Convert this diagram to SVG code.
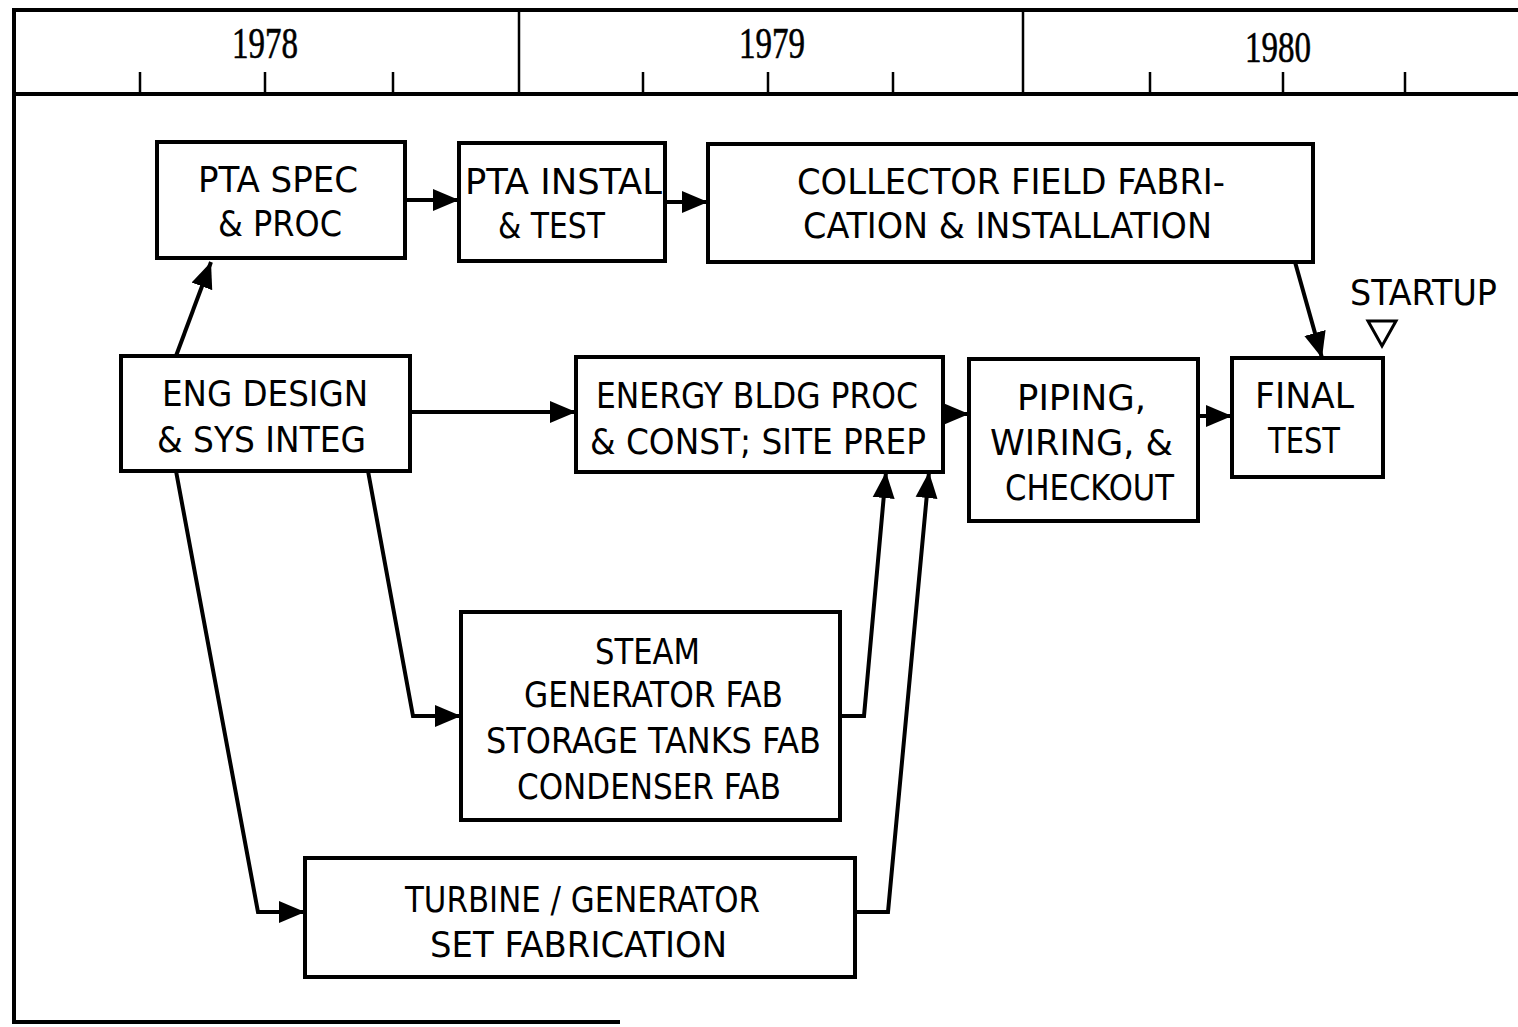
<svg xmlns="http://www.w3.org/2000/svg" width="1518" height="1027" viewBox="0 0 1518 1027">
<style>
.box{fill:#fff;stroke:#000;stroke-width:4}
.t{font-family:"DejaVu Sans Condensed","DejaVu Sans",sans-serif;font-size:35px;fill:#000}
.yr{font-family:"Liberation Serif",serif;font-size:44px;fill:#000;stroke:#000;stroke-width:0.6}
.c{fill:none;stroke:#000;stroke-width:4;stroke-linejoin:miter}
.frame{stroke:#000;fill:none}
</style>
<defs>
<marker id="ah" markerUnits="userSpaceOnUse" markerWidth="28" markerHeight="24" refX="26" refY="12" orient="auto">
<path d="M0,1 L26,12 L0,23 Z" fill="#000"/>
</marker>
</defs>
<rect width="1518" height="1027" fill="#fff"/>
<g id="timeline">
<path class="frame" stroke-width="4" d="M12,10 H1518 M14,10 V1022 M12,94 H1518 M12,1022 H620"/>
<path class="frame" stroke-width="2.5" d="M519,10 V94 M1023,10 V94 M140,72 V94 M265,72 V94 M393,72 V94 M643,72 V94 M768,72 V94 M893,72 V94 M1150,72 V94 M1283,72 V94 M1405,72 V94"/>
<text class="yr" x="232" y="58" textLength="66" lengthAdjust="spacingAndGlyphs">1978</text>
<text class="yr" x="739" y="58" textLength="66" lengthAdjust="spacingAndGlyphs">1979</text>
<text class="yr" x="1245" y="62" textLength="66" lengthAdjust="spacingAndGlyphs">1980</text>
</g>
<g id="connectors">
<path class="c" marker-end="url(#ah)" d="M176,356 L211,262"/>
<path class="c" marker-end="url(#ah)" d="M405,200 H459"/>
<path class="c" marker-end="url(#ah)" d="M665,202 H708"/>
<path class="c" marker-end="url(#ah)" d="M1295,262 L1322,358"/>
<path class="c" marker-end="url(#ah)" d="M410,412 H576"/>
<path class="c" marker-end="url(#ah)" d="M943,414 H969"/>
<path class="c" marker-end="url(#ah)" d="M1198,416 H1232"/>
<path class="c" marker-end="url(#ah)" d="M368,471 L413,716 H461"/>
<path class="c" marker-end="url(#ah)" d="M176,471 L258,912 H305"/>
<path class="c" marker-end="url(#ah)" d="M840,716 H864 L886,472"/>
<path class="c" marker-end="url(#ah)" d="M855,912 H888 L929,472"/>
</g>
<g id="pta-spec">
<rect class="box" x="157" y="142" width="248" height="116"/>
<text class="t" x="198" y="192" textLength="160" lengthAdjust="spacingAndGlyphs">PTA SPEC</text>
<text class="t" x="218" y="236" textLength="124" lengthAdjust="spacingAndGlyphs">&amp; PROC</text>
</g>
<g id="pta-instal">
<rect class="box" x="459" y="143" width="206" height="118"/>
<text class="t" x="465" y="194" textLength="197" lengthAdjust="spacingAndGlyphs">PTA INSTAL</text>
<text class="t" x="498" y="238" textLength="107" lengthAdjust="spacingAndGlyphs">&amp; TEST</text>
</g>
<g id="collector">
<rect class="box" x="708" y="144" width="605" height="118"/>
<text class="t" x="797" y="194" textLength="428" lengthAdjust="spacingAndGlyphs">COLLECTOR FIELD FABRI-</text>
<text class="t" x="803" y="238" textLength="409" lengthAdjust="spacingAndGlyphs">CATION &amp; INSTALLATION</text>
</g>
<g id="eng-design">
<rect class="box" x="121" y="356" width="289" height="115"/>
<text class="t" x="162" y="406" textLength="206" lengthAdjust="spacingAndGlyphs">ENG DESIGN</text>
<text class="t" x="157" y="452" textLength="209" lengthAdjust="spacingAndGlyphs">&amp; SYS INTEG</text>
</g>
<g id="energy-bldg">
<rect class="box" x="576" y="357" width="367" height="115"/>
<text class="t" x="596" y="408" textLength="322" lengthAdjust="spacingAndGlyphs">ENERGY BLDG PROC</text>
<text class="t" x="590" y="454" textLength="336" lengthAdjust="spacingAndGlyphs">&amp; CONST; SITE PREP</text>
</g>
<g id="piping">
<rect class="box" x="969" y="359" width="229" height="162"/>
<text class="t" x="1017" y="410" textLength="129" lengthAdjust="spacingAndGlyphs">PIPING,</text>
<text class="t" x="990" y="455" textLength="183" lengthAdjust="spacingAndGlyphs">WIRING, &amp;</text>
<text class="t" x="1005" y="500" textLength="169" lengthAdjust="spacingAndGlyphs">CHECKOUT</text>
</g>
<g id="final-test">
<rect class="box" x="1232" y="358" width="151" height="119"/>
<text class="t" x="1255" y="408" textLength="99" lengthAdjust="spacingAndGlyphs">FINAL</text>
<text class="t" x="1268" y="453" textLength="72" lengthAdjust="spacingAndGlyphs">TEST</text>
</g>
<g id="startup">
<text class="t" x="1350" y="305" textLength="147" lengthAdjust="spacingAndGlyphs">STARTUP</text>
<path d="M1368,321 H1396 L1382,346 Z" fill="none" stroke="#000" stroke-width="3"/>
</g>
<g id="steam">
<rect class="box" x="461" y="612" width="379" height="208"/>
<text class="t" x="595" y="664" textLength="105" lengthAdjust="spacingAndGlyphs">STEAM</text>
<text class="t" x="524" y="707" textLength="259" lengthAdjust="spacingAndGlyphs">GENERATOR FAB</text>
<text class="t" x="486" y="753" textLength="335" lengthAdjust="spacingAndGlyphs">STORAGE TANKS FAB</text>
<text class="t" x="517" y="799" textLength="264" lengthAdjust="spacingAndGlyphs">CONDENSER FAB</text>
</g>
<g id="turbine">
<rect class="box" x="305" y="858" width="550" height="119"/>
<text class="t" x="405" y="912" textLength="355" lengthAdjust="spacingAndGlyphs">TURBINE / GENERATOR</text>
<text class="t" x="430" y="957" textLength="297" lengthAdjust="spacingAndGlyphs">SET FABRICATION</text>
</g>
</svg>
